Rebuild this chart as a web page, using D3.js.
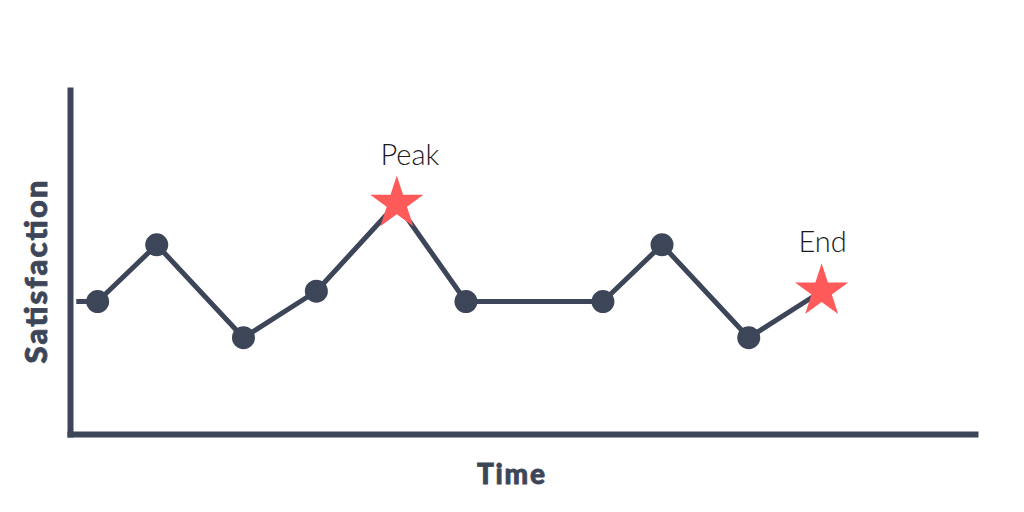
<!DOCTYPE html>
<html lang="en">
<head>
    <meta charset="UTF-8">
    <title>Peak-End Rule</title>
    <script src="https://d3js.org/d3.v7.min.js"></script>
    <style>
        body { margin: 0; background: #fff; }
        .axis-title { font-family: Lato, "Open Sans", sans-serif; font-weight: 900; fill: #3d4659; stroke: #3d4659; stroke-width: 0.8; }
        .mark-label { font-family: Lato, "Open Sans", sans-serif; font-weight: 300; fill: #1a1a1a; }
    </style>
</head>
<body>
<svg id="chart"></svg>

<script>
    // moments in time and how satisfied the person felt
    let times = [0.25, 1.1, 3.45, 6.9, 9.8, 13, 15.75, 21.2, 23.55, 27, 29.9];
    let satisfaction = [3.85, 3.85, 5.5, 2.8, 4.15, 6.7, 3.85, 3.85, 5.5, 2.8, 4.15];
    let markers = ["none", "circle", "circle", "circle", "circle", "star", "circle", "circle", "circle", "circle", "star"];
    let labels = ["", "", "", "", "", "Peak", "", "", "", "", "End"];

    let width = 1024,
        height = 512;

    let navy = "#3d4659",
        red = "#ff5a5a";

    let svg = d3.select("#chart")
        .attr("width", width)
        .attr("height", height);

    let x = d3.scaleLinear().domain([0, 36]).range([70, 975]);
    let y = d3.scaleLinear().domain([0, 10]).range([434, 90]);

    let data = times.map((t, i) => ({
        time: t,
        value: satisfaction[i],
        marker: markers[i],
        label: labels[i]
    }));

    // axes with no ticks, just the heavy baseline
    let xAxis = svg.append("g")
        .attr("transform", `translate(0,${y(0)})`)
        .call(d3.axisBottom(x).ticks(0).tickSizeOuter(0));
    let yAxis = svg.append("g")
        .attr("transform", `translate(${x(0)},0)`)
        .call(d3.axisLeft(y).ticks(0).tickSizeOuter(0));

    [xAxis, yAxis].forEach(a => {
        a.select(".domain")
            .attr("stroke", navy)
            .attr("stroke-width", 6)
            .attr("stroke-linecap", "square");
    });

    let line = d3.line()
        .x(d => x(d.time))
        .y(d => y(d.value));

    svg.append("path")
        .datum(data)
        .attr("fill", "none")
        .attr("stroke", navy)
        .attr("stroke-width", 5)
        .attr("stroke-linejoin", "round")
        .attr("d", line);

    svg.selectAll("circle.point")
        .data(data.filter(d => d.marker === "circle"))
        .join("circle")
        .attr("class", "point")
        .attr("cx", d => x(d.time))
        .attr("cy", d => y(d.value))
        .attr("r", 11.5)
        .attr("fill", navy);

    let star = d3.symbol().type(d3.symbolStar).size(880);

    svg.selectAll("path.star")
        .data(data.filter(d => d.marker === "star"))
        .join("path")
        .attr("class", "star")
        .attr("transform", d => `translate(${x(d.time)},${y(d.value)})`)
        .attr("fill", red)
        .attr("d", star);

    let labelOffset = {"Peak": 13, "End": 1};

    svg.selectAll("text.mark-label")
        .data(data.filter(d => d.label !== ""))
        .join("text")
        .attr("class", "mark-label")
        .attr("x", d => x(d.time) + labelOffset[d.label])
        .attr("y", d => y(d.value) - 39)
        .attr("text-anchor", "middle")
        .attr("font-size", 29)
        .text(d => d.label);

    svg.append("text")
        .attr("class", "axis-title")
        .attr("x", 511)
        .attr("y", 484)
        .attr("text-anchor", "middle")
        .attr("font-size", 28)
        .attr("textLength", 68)
        .attr("lengthAdjust", "spacing")
        .text("Time");

    svg.append("text")
        .attr("class", "axis-title")
        .attr("transform", "translate(47,272) rotate(-90)")
        .attr("text-anchor", "middle")
        .attr("font-size", 31)
        .attr("textLength", 183)
        .attr("lengthAdjust", "spacing")
        .text("Satisfaction");
</script>
</body>
</html>
